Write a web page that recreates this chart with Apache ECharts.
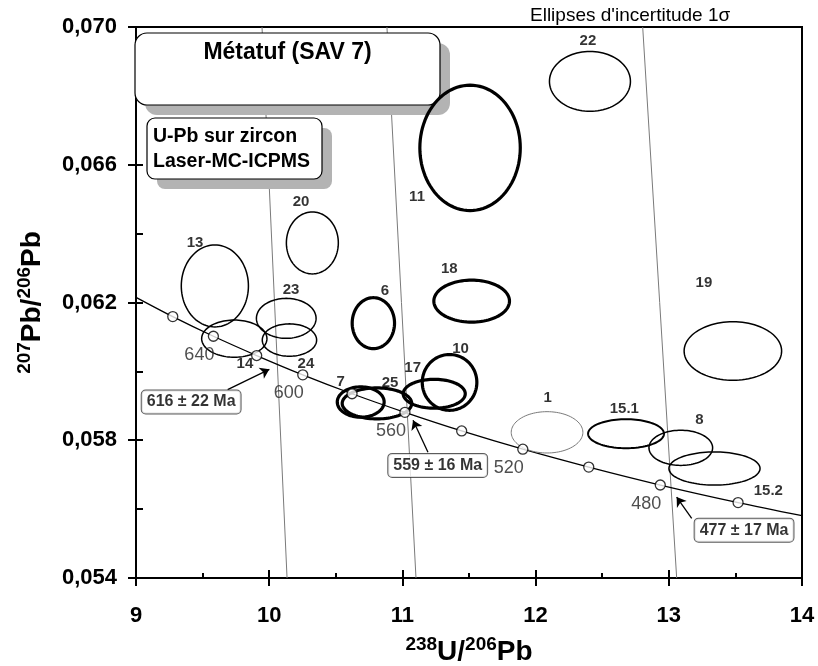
<!DOCTYPE html>
<html>
<head>
<meta charset="utf-8">
<script src="https://cdn.jsdelivr.net/npm/echarts@6/dist/echarts.min.js"></script>
<style>
  html, body { margin: 0; padding: 0; background: #fff; }
  #chart { width: 818px; height: 666px; }
</style>
</head>
<body>
<div id="chart"></div>
<script>
// Tera-Wasserburg concordia diagram, zircon U-Pb (laser MC-ICPMS)

// analysis spots: 1-sigma uncertainty ellipses (238U/206Pb, 207Pb/206Pb)
const spotIds   = ['22', '11', '13', '14', '23', '24', '20', '6', '7', '25', '17', '10', '18', '19', '1', '15.1', '8', '15.2'];
const spotX     = [12.408, 11.508, 9.592, 9.738, 10.128, 10.152, 10.324, 10.782, 10.687, 10.809, 11.239, 11.354, 11.520, 13.481, 12.086, 12.679, 13.090, 13.343];
const spotY     = [0.06842, 0.06649, 0.06248, 0.06095, 0.06154, 0.06091, 0.06373, 0.06140, 0.05911, 0.05907, 0.05935, 0.05968, 0.06204, 0.06059, 0.05823, 0.05819, 0.05778, 0.05718];
const spotSigX  = [0.304, 0.377, 0.252, 0.245, 0.224, 0.204, 0.195, 0.159, 0.176, 0.261, 0.233, 0.205, 0.284, 0.366, 0.269, 0.285, 0.239, 0.342];
const spotSigY  = [0.00087, 0.00182, 0.00119, 0.00054, 0.00058, 0.00047, 0.00090, 0.00074, 0.00044, 0.00045, 0.00042, 0.00081, 0.00061, 0.00085, 0.00060, 0.00042, 0.00051, 0.00048];
// anchor of each spot number
const spotLabelX = [12.393, 11.110, 9.443, 9.818, 10.164, 10.276, 10.239, 10.869, 10.537, 10.907, 11.077, 11.436, 11.352, 13.264, 12.091, 12.666, 13.229, 13.747];
const spotLabelY = [0.06959, 0.06506, 0.06373, 0.06021, 0.06238, 0.06023, 0.06492, 0.06233, 0.05969, 0.05967, 0.06010, 0.06066, 0.06298, 0.06258, 0.05923, 0.05891, 0.05860, 0.05653];

// concordia curve with 20 Ma age marks
const concordiaEndsX = [9.000, 14.000];
const concordiaEndsY = [0.06215, 0.05581];
const ageMa = [660, 640, 620, 600, 580, 560, 540, 520, 500, 480, 460];
const ageX  = [9.276, 9.581, 9.906, 10.252, 10.622, 11.019, 11.445, 11.904, 12.399, 12.936, 13.520];
const ageY  = [0.06159, 0.06102, 0.06046, 0.05990, 0.05935, 0.05881, 0.05827, 0.05774, 0.05722, 0.05670, 0.05619];
const labelledAges = [640, 600, 560, 520, 480];

// discordia lines (top and bottom of the frame)
const discordiaTopX    = [9.946, 10.884, 12.804];
const discordiaBottomX = [10.134, 11.102, 13.059];
const discordiaY       = [0.070, 0.054];

// intercept ages with their arrows
const interceptText  = ['616 ± 22 Ma', '559 ± 16 Ma', '477 ± 17 Ma'];
const interceptBoxX  = [9.414, 11.265, 13.565];
const interceptBoxY  = [0.05911, 0.05727, 0.05539];
const arrowFromX = [9.688, 11.192, 13.172];
const arrowFromY = [0.05947, 0.05765, 0.05573];
const arrowToX   = [10.001, 11.080, 13.059];
const arrowToY   = [0.06006, 0.05858, 0.05635];

// axis ticks
const xTicks = { min: 9, max: 14, step: 1 };
const yTicks = { min: 0.054, max: 0.070, step: 0.004 };

const FONT = "'Liberation Sans', Arial, Helvetica, sans-serif";
const thickSpots = ['11', '6', '7', '25', '17', '10', '18'];

function spotStroke(id) {
  if (id === '1') return { color: '#7a7a7a', width: 1 };
  if (thickSpots.indexOf(id) >= 0) return { color: '#000', width: 3.2 };
  if (id === '15.1') return { color: '#000', width: 2 };
  return { color: '#000', width: 1.5 };
}

function renderEllipse(params, api) {
  const cx = api.value(0), cy = api.value(1), sx = api.value(2), sy = api.value(3);
  const id = spotIds[params.dataIndex];
  const pts = [];
  const n = 96;
  for (let k = 0; k < n; k++) {
    const a = (k / n) * Math.PI * 2;
    pts.push(api.coord([cx + sx * Math.cos(a), cy + sy * Math.sin(a)]));
  }
  const s = spotStroke(id);
  return {
    type: 'polygon',
    shape: { points: pts },
    style: { fill: 'none', stroke: s.color, lineWidth: s.width }
  };
}

const chart = echarts.init(document.getElementById('chart'), null, { renderer: 'canvas' });

const series = [];

// discordia lines
for (let i = 0; i < discordiaTopX.length; i++) {
  series.push({
    type: 'line', z: 1, silent: true, showSymbol: false, symbol: 'none',
    lineStyle: { color: '#7a7a7a', width: 1 },
    data: [[discordiaTopX[i], discordiaY[0]], [discordiaBottomX[i], discordiaY[1]]]
  });
}

// concordia
const concordiaData = [[concordiaEndsX[0], concordiaEndsY[0]]]
  .concat(ageX.map((x, i) => [x, ageY[i]]))
  .concat([[concordiaEndsX[1], concordiaEndsY[1]]]);

series.push({
  type: 'line', z: 4, silent: true, showSymbol: false, symbol: 'none', smooth: 0.3,
  lineStyle: { color: '#000', width: 1.3 },
  data: concordiaData,
  markLine: {
    silent: true,
    symbol: ['none', 'arrow'],
    symbolSize: 9,
    label: { show: false },
    lineStyle: { color: '#000', width: 1.3, type: 'solid' },
    data: arrowFromX.map((x, i) => [{ coord: [x, arrowFromY[i]] }, { coord: [arrowToX[i], arrowToY[i]] }])
  }
});

// age marks on the concordia
series.push({
  type: 'scatter', z: 6, silent: true,
  symbol: 'circle', symbolSize: 10,
  itemStyle: { color: '#fff', borderColor: '#000', borderWidth: 1.3 },
  data: ageX.map((x, i) => [x, ageY[i], ageMa[i]]),
  label: {
    show: true, position: 'bottom', offset: [-14, -1],
    fontFamily: FONT, fontSize: 18, color: '#222',
    formatter: p => (labelledAges.indexOf(p.value[2]) >= 0 ? String(p.value[2]) : '')
  }
});

// uncertainty ellipses
series.push({
  type: 'custom', z: 5, silent: true,
  renderItem: renderEllipse,
  encode: { x: 0, y: 1 },
  data: spotIds.map((id, i) => [spotX[i], spotY[i], spotSigX[i], spotSigY[i]])
});

// spot numbers
series.push({
  type: 'scatter', z: 7, silent: true, symbolSize: 0,
  data: spotIds.map((id, i) => [spotLabelX[i], spotLabelY[i], id]),
  label: {
    show: true, position: 'inside',
    fontFamily: FONT, fontSize: 15, fontWeight: 'bold', color: '#000',
    formatter: p => p.value[2]
  }
});

// intercept age boxes
series.push({
  type: 'scatter', z: 8, silent: true, symbolSize: 0,
  data: interceptText.map((t, i) => [interceptBoxX[i], interceptBoxY[i], t]),
  label: {
    show: true, position: 'inside',
    fontFamily: FONT, fontSize: 16, fontWeight: 'bold', color: '#000',
    backgroundColor: '#fff', borderColor: '#333', borderWidth: 1, borderRadius: 4,
    padding: [4, 5, 3, 5],
    formatter: p => p.value[2]
  }
});

const supStyle = { fontFamily: FONT, fontSize: 19, fontWeight: 'bold', color: '#000', verticalAlign: 'top', lineHeight: 31 };
const mainStyle = { fontFamily: FONT, fontSize: 28, fontWeight: 'bold', color: '#000', verticalAlign: 'bottom', lineHeight: 31 };

const option = {
  animation: false,
  backgroundColor: '#fff',
  grid: {
    left: 136, right: 16, top: 27, bottom: 88,
    containLabel: false, outerBoundsMode: 'none',
    show: true, borderColor: '#000', borderWidth: 2, backgroundColor: 'transparent'
  },
  xAxis: [
    {
      type: 'value', min: xTicks.min, max: xTicks.max, interval: xTicks.step, position: 'bottom',
      axisLine: { lineStyle: { color: '#000', width: 2 } },
      axisTick: { inside: false, length: 8, lineStyle: { color: '#000', width: 2 } },
      axisLabel: { margin: 27, fontFamily: FONT, fontSize: 22, fontWeight: 'bold', color: '#000' },
      splitLine: { show: false },
      name: '{s|238}{m|U/}{s|206}{m|Pb}',
      nameLocation: 'middle', nameGap: 57,
      nameTextStyle: { rich: { s: supStyle, m: mainStyle } }
    },
    {
      type: 'value', min: xTicks.min, max: xTicks.max, interval: xTicks.step, position: 'bottom',
      axisLine: { show: false },
      axisTick: { inside: true, length: 8, lineStyle: { color: '#000', width: 2 } },
      minorTick: { show: true, splitNumber: 2, length: 5, lineStyle: { color: '#000', width: 2 } },
      axisLabel: { show: false },
      splitLine: { show: false }
    }
  ],
  yAxis: [
    {
      type: 'value', min: yTicks.min, max: yTicks.max, interval: yTicks.step, position: 'left',
      axisLine: { lineStyle: { color: '#000', width: 2 } },
      axisTick: { inside: false, length: 8, lineStyle: { color: '#000', width: 2 } },
      axisLabel: {
        margin: 19, fontFamily: FONT, fontSize: 22, fontWeight: 'bold', color: '#000',
        formatter: v => v.toFixed(3).replace('.', ',')
      },
      splitLine: { show: false },
      name: '{s|207}{m|Pb/}{s|206}{m|Pb}',
      nameLocation: 'middle', nameRotate: 90, nameGap: 90,
      nameTextStyle: { rich: { s: supStyle, m: mainStyle } }
    },
    {
      type: 'value', min: yTicks.min, max: yTicks.max, interval: yTicks.step / 2, position: 'left',
      axisLine: { show: false },
      axisTick: { inside: true, length: 7, lineStyle: { color: '#000', width: 2 } },
      axisLabel: { show: false },
      splitLine: { show: false }
    }
  ],
  graphic: [
    // sample title box with drop shadow
    { type: 'rect', z: 3, silent: true, shape: { x: 145, y: 43, width: 305, height: 72, r: 12 }, style: { fill: '#b3b3b3' } },
    { type: 'rect', z: 3, silent: true, shape: { x: 135, y: 33, width: 305, height: 72, r: 12 }, style: { fill: '#fff', stroke: '#000', lineWidth: 1.2 } },
    { type: 'text', z: 3, silent: true, x: 287.5, y: 53, style: { text: 'Métatuf (SAV 7)', font: 'bold 23px ' + FONT, fill: '#000', align: 'center', verticalAlign: 'middle' } },
    // method box with drop shadow
    { type: 'rect', z: 3, silent: true, shape: { x: 157, y: 128, width: 175, height: 61, r: 8 }, style: { fill: '#b3b3b3' } },
    { type: 'rect', z: 3, silent: true, shape: { x: 147, y: 118, width: 175, height: 61, r: 8 }, style: { fill: '#fff', stroke: '#000', lineWidth: 1.2 } },
    { type: 'text', z: 3, silent: true, x: 153, y: 137, style: { text: 'U-Pb sur zircon', font: 'bold 19.5px ' + FONT, fill: '#000', align: 'left', verticalAlign: 'middle' } },
    { type: 'text', z: 3, silent: true, x: 153, y: 162, style: { text: 'Laser-MC-ICPMS', font: 'bold 19.5px ' + FONT, fill: '#000', align: 'left', verticalAlign: 'middle' } },
    // uncertainty note
    { type: 'text', z: 3, silent: true, x: 530, y: 16, style: { text: "Ellipses d'incertitude 1σ", font: '19px ' + FONT, fill: '#000', align: 'left', verticalAlign: 'middle' } }
  ],
  series: series
};

chart.setOption(option);
</script>
</body>
</html>
